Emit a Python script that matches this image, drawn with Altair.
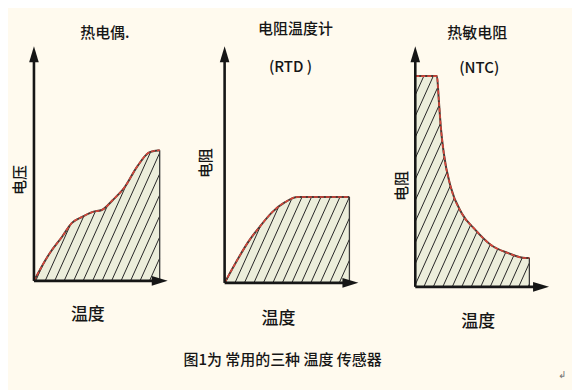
import altair as alt
import numpy as np
import pandas as pd

# ---- curve data (temperature vs. output, arbitrary units 0..100) ----
tc_temp = [0, 11.9, 20.9, 28.4, 35.8, 44.0, 50.7, 59.0, 67.9, 76.9, 86.6, 94.0]
tc_volt = [0, 11.9, 18.7, 24.7, 27.2, 29.4, 30.2, 34.5, 40.0, 48.5, 54.9, 55.7]

rtd_temp = [0, 8.2, 17.2, 26.1, 35.8, 45.5, 54.5, 73.1, 93.3]
rtd_res = [0, 8.4, 16.9, 23.6, 30.0, 34.2, 36.3, 36.3, 36.3]

ntc_temp = [0, 16.2, 17.6, 19.1, 21.3, 26.5, 34.6, 44.9, 56.6, 69.1, 82.4, 85.3]
ntc_res = [87.6, 87.6, 77.6, 66.4, 55.6, 41.5, 30.7, 23.7, 17.4, 14.1, 12.0, 12.0]

# ---- texts ----
titles = [["热电偶."], ["电阻温度计", "(RTD )"], ["热敏电阻", "(NTC)"]]
ylabels = ["电压", "电阻", "电阻"]
xlabel = "温度"
caption = "图1为 常用的三种 温度 传感器"

FONT = "Noto Sans CJK SC"
WEIGHT = 500
INK = "#161616"
BG = "#fffaee"
FILL = "#eceedb"


def hatch_df(xs, ys, W, H, step=9.5, k=0.45):
    sx, sy = W / 100.0, H / 100.0
    xend = xs[-1] * sx
    ts = np.arange(0, H, 0.25)
    rows = []
    c = -k * H + 3
    while c < xend:
        xp = c + k * ts
        f = np.interp(xp / sx, xs, ys) * sy
        inside = (xp >= 0) & (xp <= xend) & (ts <= f)
        idx = np.where(inside)[0]
        if len(idx) > 1:
            i0 = idx[0]
            i1 = i0
            while i1 + 1 < len(inside) and inside[i1 + 1]:
                i1 += 1
            rows.append(dict(x=xp[i0] / sx, y=ts[i0] / sy, x2=xp[i1] / sx, y2=ts[i1] / sy))
        c += step
    return pd.DataFrame(rows)


def X(f="x"):
    return alt.X(f + ":Q", scale=alt.Scale(domain=[0, 100]), axis=None)


def Y(f="y"):
    return alt.Y(f + ":Q", scale=alt.Scale(domain=[0, 100]), axis=None)


UP = "M0,-1L0.6,1L-0.6,1Z"
RIGHT = "M1,0L-1,-0.6L-1,0.6Z"


def txt(df, size, angle=0):
    return alt.Chart(df).mark_text(font=FONT, fontSize=size, fontWeight=WEIGHT, color=INK,
                                   angle=angle).encode(x=X(), y=Y(), text="t:N")


def panel(xs, ys, W, H, title_pos, ylab_pos, xlab_pos, extra=None):
    sx, sy = W / 100.0, H / 100.0
    curve = pd.DataFrame({"x": xs, "y": ys})
    area = alt.Chart(curve).mark_area(color=FILL, opacity=1, interpolate="monotone").encode(
        x=X(), y=Y(), y2=alt.datum(0))
    hat = alt.Chart(hatch_df(xs, ys, W, H)).mark_rule(color="#262626", strokeWidth=1).encode(
        x=X(), y=Y(), x2="x2:Q", y2="y2:Q")
    edge = alt.Chart(pd.DataFrame({"x": [xs[-1]], "y": [0], "y2": [ys[-1]]})).mark_rule(
        color="#3a3a3a", strokeWidth=1.3).encode(x=X(), y=Y(), y2="y2:Q")
    line1 = alt.Chart(curve).mark_line(color="#4a3a34", strokeWidth=2, interpolate="monotone").encode(x=X(), y=Y())
    line2 = alt.Chart(curve).mark_line(color="#d8463a", strokeWidth=1.6, strokeDash=[4, 2],
                                       interpolate="monotone").encode(x=X(), y=Y())
    ay = 100 - 8 / sy
    ax = 100 - 8 / sx
    axes = alt.Chart(pd.DataFrame({"x": [0, 0], "y": [0, 0], "x2": [0, ax], "y2": [ay, 0]})).mark_rule(
        color=INK, strokeWidth=2.6).encode(x=X(), y=Y(), x2="x2:Q", y2="y2:Q")
    arr_up = alt.Chart(pd.DataFrame({"x": [0], "y": [ay]})).mark_point(
        shape=UP, filled=True, size=256, color=INK, opacity=1).encode(x=X(), y=Y())
    arr_rt = alt.Chart(pd.DataFrame({"x": [ax], "y": [0]})).mark_point(
        shape=RIGHT, filled=True, size=256, color=INK, opacity=1).encode(x=X(), y=Y())
    ttl = txt(pd.DataFrame(title_pos, columns=["x", "y", "t"]), 15)
    ylb = txt(pd.DataFrame([ylab_pos], columns=["x", "y", "t"]), 15, 270)
    xlb = txt(pd.DataFrame([xlab_pos], columns=["x", "y", "t"]), 17)
    layers = [area, hat, edge, line1, line2, axes, arr_up, arr_rt, ttl, ylb, xlb]
    if extra is not None:
        layers += extra
    return alt.layer(*layers).properties(width=W, height=H)


p1 = panel(tc_temp, tc_volt, 134, 235,
           [(53, 105.5, titles[0][0])],
           (-10.4, 43, ylabels[0]), (40.3, -14.5, xlabel))

cap = txt(pd.DataFrame({"x": [43.3], "y": [-32.6], "t": [caption]}), 15)
p2 = panel(rtd_temp, rtd_res, 134, 237,
           [(53, 107.2, titles[1][0]), (49.3, 91.1, titles[1][1])],
           (-14.2, 50.6, ylabels[1]), (40.3, -15.2, xlabel), extra=[cap])

mark = alt.Chart(pd.DataFrame({"x": [110], "y": [-36.5], "t": ["↲"]})).mark_text(
    font="DejaVu Sans", fontSize=10, color="#777777").encode(x=X(), y=Y(), text="t:N")
p3 = panel(ntc_temp, ntc_res, 134, 241,
           [(46.3, 105.4, titles[2][0]), (47.8, 90.9, titles[2][1])],
           (-9.6, 41.9, ylabels[2]), (47, -14.5, xlabel), extra=[mark])

chart = alt.hconcat(p1, p2, p3, spacing=57, bounds="flush").properties(
    background=BG,
    padding={"left": 5, "top": 13, "right": 5, "bottom": 12},
).configure_view(strokeWidth=0)

chart.save("out.html", embed_options={"renderer": "svg", "actions": False})
